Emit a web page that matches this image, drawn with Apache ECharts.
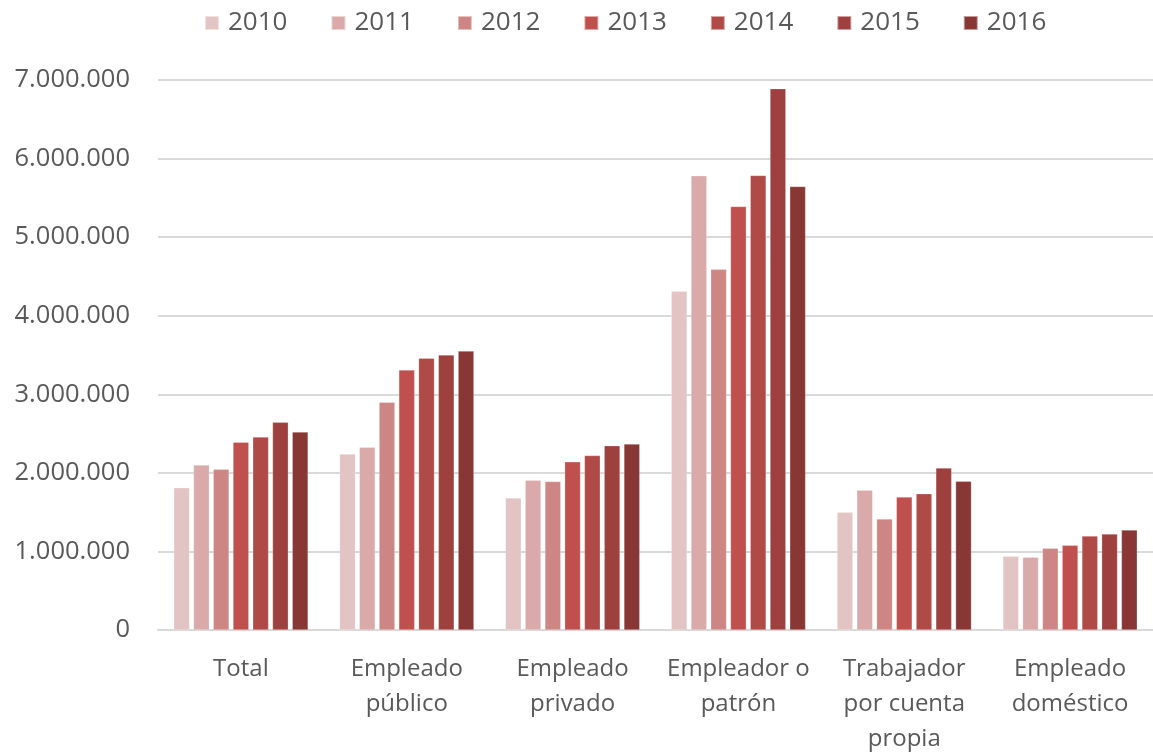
<!DOCTYPE html>
<html>
<head>
<meta charset="utf-8">
<script src="https://cdn.jsdelivr.net/npm/echarts@6/dist/echarts.min.js"></script>
<style>
  html, body { margin: 0; padding: 0; background: #fff; }
  #chart { width: 1153px; height: 754px; }
</style>
</head>
<body>
<div id="chart"></div>
<script>
// categorías (eje x)
var categories = ['Total', 'Empleado\npúblico', 'Empleado\nprivado', 'Empleador o\npatrón', 'Trabajador\npor cuenta\npropia', 'Empleado\ndoméstico'];
var years = ['2010', '2011', '2012', '2013', '2014', '2015', '2016'];

// valores por año, en el orden de las categorías
var v2010 = [1810000, 2240000, 1680000, 4310000, 1500000, 938000];
var v2011 = [2100000, 2325000, 1905000, 5780000, 1780000, 925000];
var v2012 = [2045000, 2898000, 1890000, 4590000, 1413000, 1040000];
var v2013 = [2390000, 3310000, 2140000, 5390000, 1693000, 1078000];
var v2014 = [2456000, 3460000, 2220000, 5785000, 1735000, 1196000];
var v2015 = [2643000, 3500000, 2346000, 6890000, 2062000, 1222000];
var v2016 = [2520000, 3550000, 2367000, 5645000, 1892000, 1273000];

// ticks del eje y
var yMin = 0, yMax = 7000000, yStep = 1000000;

var seriesData = [v2010, v2011, v2012, v2013, v2014, v2015, v2016];
var colors = ['#E2C4C5', '#DAA9AA', '#CE8685', '#C0504D', '#AF4A47', '#9E403E', '#893735'];

function fmt(n) {
  return String(n).replace(/\B(?=(\d{3})+(?!\d))/g, '.');
}

var chart = echarts.init(document.getElementById('chart'));
var option = {
  animation: false,
  color: colors,
  textStyle: { fontFamily: 'Open Sans' },
  legend: {
    top: 10,
    left: 204,
    padding: 0,
    itemWidth: 14,
    itemHeight: 14,
    itemGap: 43,
    icon: 'rect',
    textStyle: { color: '#595959', fontSize: 26, fontFamily: 'Open Sans', padding: [0, 0, 0, 4] },
    data: years
  },
  grid: { left: 158, right: 0, top: 80, bottom: 124, containLabel: false, outerBoundsMode: 'none' },
  xAxis: {
    type: 'category',
    data: categories,
    axisLine: { lineStyle: { color: '#d9d9d9', width: 2 } },
    axisTick: { show: false },
    axisLabel: {
      color: '#595959',
      fontSize: 24,
      lineHeight: 35,
      margin: 22,
      interval: 0
    }
  },
  yAxis: {
    type: 'value',
    min: yMin,
    max: yMax,
    interval: yStep,
    axisLine: { show: false },
    axisTick: { show: false },
    splitLine: { lineStyle: { color: '#d9d9d9', width: 2 } },
    axisLabel: {
      color: '#595959',
      fontSize: 25.5,
      margin: 28,
      formatter: function (v) { return fmt(v); }
    }
  },
  series: seriesData.map(function (d, i) {
    return {
      name: years[i],
      type: 'bar',
      data: d,
      barGap: '25%',
      barCategoryGap: '19%',
      itemStyle: { borderColor: 'rgba(255,255,255,0.5)', borderWidth: 0.5 }
    };
  })
};
chart.setOption(option);
</script>
</body>
</html>
